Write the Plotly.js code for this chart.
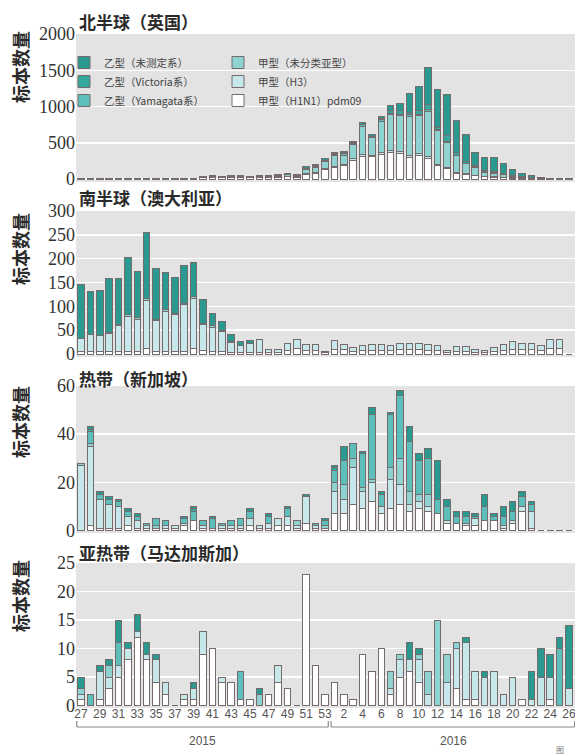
<!DOCTYPE html>
<html>
<head>
<meta charset="utf-8">
<script src="https://cdn.plot.ly/plotly-3.0.1.min.js"></script>
<style>html,body{margin:0;padding:0;background:#fff;}#chart{width:575px;height:756px;}</style>
</head>
<body>
<div id="chart"></div>
<script>
// Categories: ISO weeks 2015-27 .. 2016-26
const weeks = ['27','28','29','30','31','32','33','34','35','36','37','38','39','40','41','42','43','44','45','46','47','48','49','50','51','52','53',
  '1','2','3','4','5','6','7','8','9','10','11','12','13','14','15','16','17','18','19','20','21','22','23','24','25','26'];
const tickWeeks = ['27','29','31','33','35','37','39','41','43','45','47','49','51','53','2','4','6','8','10','12','14','16','18','20','22','24','26'];

const seriesNames = ['甲型（H1N1）pdm09','甲型（H3）','甲型（未分类亚型）','乙型（Yamagata系）','乙型（Victoria系）','乙型（未测定系）'];
const seriesColors = ['#ffffff','#c6e8eb','#8fd2d2','#5cbfbb','#34a89e','#2a9a90'];

const panelTitles = ['北半球（英国）','南半球（澳大利亚）','热带（新加坡）','亚热带（马达加斯加）'];
const yLabel = '标本数量';
const yearLabels = ['2015','2016'];

// Panel 1: Northern hemisphere (UK)
const ukH1N1 = [3,2,3,3,2,3,4,3,3,4,5,5,6, 16,18,16,18,18,16,20,18,24,28,26, 65,80,125,160,185,262,317,308,340,368,350,300,331,285,184,147,78,64,46,30,25,20,12,8,6,3,2,2,2];
const ukH3 = [1,1,1,1,1,1,1,1,1,1,1,1,1, 4,5,4,5,5,4,5,5,6,7,7, 10,10,15,15,15,20,25,20,25,25,25,25,25,25,20,15,10,10,5,5,5,5,3,2,2,1,1,1,1];
const ukAunsub = [2,2,2,2,2,2,2,2,2,2,2,2,2, 12,13,12,13,13,12,15,13,18,21,19, 55,70,100,155,130,196,389,242,435,490,498,540,520,620,460,340,235,140,110,60,50,40,25,15,10,3,2,2,2];
const ukYam = [1,1,1,1,1,1,1,1,1,1,1,1,1, 3,3,3,3,3,3,4,3,4,5,5, 10,10,10,12,15,15,15,10,15,20,20,18,16,22,12,13,8,2,6,4,5,4,3,2,2,1,1,1,1];
const ukVic = [1,1,1,1,1,1,1,1,1,1,1,1,1, 2,3,2,3,3,2,3,3,4,4,4, 10,10,10,10,16,11,11,11,24,47,56,40,50,80,40,80,40,30,20,15,15,12,10,6,5,2,1,1,1];
const ukBund = [1,1,1,1,1,1,1,1,1,1,1,1,1, 3,3,3,3,3,3,3,3,4,5,4, 20,20,20,20,25,20,20,20,30,70,90,259,332,508,521,564,434,361,185,180,190,130,80,45,30,5,3,3,1];

// Panel 2: Southern hemisphere (Australia)
const auH1N1 = [6,6,5,6,6,6,6,12,6,6,6,6,12,8,6,5,4,3,4,4, 4,4,8,12,8,8,3, 10,9,6,7,8,8,7,9,9,9,8,8,4,6,6,4,4,6,8,10,9,9,7,12,12,0];
const auH3 = [27,35,34,37,53,72,67,101,64,84,76,97,105,54,50,43,20,14,17,27, 6,6,14,18,12,12,2, 18,11,8,11,12,12,10,13,13,13,12,10,4,9,9,6,4,8,12,16,13,13,10,18,18,0];
const auAunsub = [0,0,0,3,2,5,4,4,3,3,4,4,4,3,3,2,2,1,0,0, 0,0,0,0,0,0,0, 0,0,0,0,0,0,0,0,0,0,0,0,0,0,0,0,0,0,0,0,0,0,0,0,0,0];
const auYam = [0,0,0,0,0,0,0,0,0,0,0,0,0,0,0,0,0,0,0,0, 0,0,0,0,0,0,0, 0,0,0,0,0,0,0,0,0,0,0,0,0,0,0,0,0,0,0,0,0,0,0,0,0,0];
const auVic = [0,0,0,0,0,0,0,0,0,0,0,0,0,0,0,0,0,0,0,0, 0,0,0,0,0,0,0, 0,0,0,0,0,0,0,0,0,0,0,0,0,0,0,0,0,0,0,0,0,0,0,0,0,0];
const auBund = [113,90,94,113,97,119,96,138,106,77,74,78,70,49,26,18,15,9,8,0, 0,0,0,0,0,0,0, 0,0,0,0,0,0,0,0,0,0,0,0,0,0,0,0,0,0,0,0,0,0,0,0,0,0];

// Panel 3: Tropics (Singapore)
const sgH1N1 = [0,2,1,1,1,2,1,1,1,1,1,2,4,1,1,1,1,1,2,1,1,2,2,1,3,1,1, 7,7,11,9,12,7,9,11,8,9,8,7,3,3,2,2,4,4,1,3,8,1,0,0,0,0];
const sgH3 = [27,33,12,10,9,4,3,1,0,1,1,1,0,1,0,1,1,1,3,1,2,3,4,1,11,1,0, 9,6,15,7,8,3,12,8,3,3,2,0,1,0,1,3,0,0,1,1,2,7,0,0,0,0];
const sgAunsub = [1,1,0,0,0,0,0,0,1,0,0,0,0,0,0,0,0,0,0,0,0,0,0,2,0,0,1, 4,6,4,2,1,0,5,11,5,3,5,0,0,0,0,0,0,0,0,0,0,0,0,0,0,0];
const sgYam = [0,5,2,2,2,2,2,1,3,2,0,2,4,2,4,1,2,3,3,0,3,0,3,0,0,1,2, 5,10,6,14,27,5,22,26,21,14,15,6,6,3,3,1,6,2,4,4,4,3,0,0,0,0];
const sgVic = [0,1,0,0,0,0,0,0,0,0,0,0,1,0,0,0,0,0,0,0,0,0,0,0,0,0,0, 1,0,0,0,0,0,0,0,0,0,0,0,0,0,0,0,0,0,0,0,0,0,0,0,0,0];
const sgBund = [0,1,1,1,1,1,1,0,0,0,0,1,1,0,1,0,0,0,1,0,1,0,1,0,1,0,1, 1,6,0,1,3,1,1,2,6,3,4,16,3,2,2,1,5,1,4,4,2,1,0,0,0,0];

// Panel 4: Subtropics (Madagascar)
const mgH1N1 = [1,0,1,3,5,8,12,8,4,2,0,1,1,9,10,4,4,1,1,0,2,4,3,0,23,7,2, 4,2,1,9,6,10,2,5,6,4,0,0,0,3,1,1,0,0,0,0,1,0,0,1,0,0];
const mgH3 = [1,0,5,2,2,2,1,1,4,2,0,1,2,4,0,1,0,0,0,0,0,3,0,0,0,0,0, 0,0,0,0,0,0,1,3,2,4,2,0,4,7,10,5,5,6,2,5,0,1,5,4,0,3];
const mgAunsub = [1,0,0,2,0,0,0,0,0,0,0,0,0,0,0,0,0,0,0,2,0,0,0,0,0,0,0, 0,0,0,0,0,0,3,1,0,1,4,15,5,1,0,0,0,0,0,0,0,0,0,0,0,0];
const mgYam = [0,2,0,0,4,0,0,0,0,0,0,0,0,0,0,0,0,5,0,0,0,0,0,0,0,0,0, 0,0,0,0,0,0,0,0,0,0,0,0,0,0,0,0,0,0,0,0,0,0,0,0,10,0];
const mgVic = [0,0,0,0,0,0,0,0,0,0,0,0,0,0,0,0,0,0,0,0,0,0,0,0,0,0,0, 0,0,0,0,0,0,0,0,0,0,0,0,0,0,0,0,0,0,0,0,0,0,0,0,0,0];
const mgBund = [2,0,1,1,4,1,3,2,1,0,0,0,1,0,0,0,0,0,0,1,0,0,0,0,0,0,0, 0,0,0,0,0,0,0,0,3,1,0,0,0,0,1,0,1,0,0,0,0,5,5,4,2,11];

const panels = [
  [ukH1N1, ukH3, ukAunsub, ukYam, ukVic, ukBund],
  [auH1N1, auH3, auAunsub, auYam, auVic, auBund],
  [sgH1N1, sgH3, sgAunsub, sgYam, sgVic, sgBund],
  [mgH1N1, mgH3, mgAunsub, mgYam, mgVic, mgBund]
];
const yMax = [2000, 300, 60, 25];
const yDtick = [500, 50, 20, 5];

const W = 575, H = 756, L = 76;
const px2x = p => (p - L) / (W - L);
const py2y = p => (H - p) / H;
// pixel extents of each panel's plotting area [top, bottom]
const panelPx = [[34,182],[211,357],[386,533],[563,708]];
const zeroPx = [179, 354, 530.5, 705.5];
const titlePy = [22, 197, 378, 552];
const ylabPy = [67, 249, 422, 596];

const traces = [];
panels.forEach((series, p) => {
  series.forEach((vals, s) => {
    traces.push({
      type: 'bar',
      x: weeks,
      y: vals,
      name: seriesNames[s],
      xaxis: 'x',
      yaxis: p === 0 ? 'y' : 'y' + (p + 1),
      marker: {color: seriesColors[s], line: {color: '#766b6c', width: 1}},
      showlegend: p === 0,
      legend: s >= 3 ? 'legend' : 'legend2',
      hovertemplate: seriesNames[s] + ' 第%{x}周: %{y}<extra></extra>'
    });
  });
});

const layout = {
  width: W, height: H,
  margin: {l: L, r: 0, t: 0, b: 0},
  paper_bgcolor: '#ffffff',
  plot_bgcolor: '#e3e3e3',
  barmode: 'stack',
  bargap: 0.3,
  showlegend: true,
  font: {family: 'Noto Sans CJK SC, sans-serif', color: '#333'},
  xaxis: {
    type: 'category', anchor: 'y4', range: [-0.53, 52.64],
    tickmode: 'array', tickvals: tickWeeks, ticktext: tickWeeks,
    showgrid: false, showline: false, zeroline: false, ticks: '',
    ticklabelstandoff: -3,
    tickfont: {family: 'Liberation Sans, sans-serif', size: 12, color: '#555'},
    automargin: false, fixedrange: true
  },
  legend: {
    x: px2x(64), y: py2y(48), xanchor: 'left', yanchor: 'top',
    bgcolor: 'rgba(0,0,0,0)', traceorder: 'reversed', tracegroupgap: 0,
    font: {family: 'Noto Sans CJK SC, sans-serif', size: 10.5, color: '#444'},
    itemclick: false, itemdoubleclick: false
  },
  legend2: {
    x: px2x(218), y: py2y(48), xanchor: 'left', yanchor: 'top',
    bgcolor: 'rgba(0,0,0,0)', traceorder: 'reversed', tracegroupgap: 0,
    font: {family: 'Noto Sans CJK SC, sans-serif', size: 10.5, color: '#444'},
    itemclick: false, itemdoubleclick: false
  },
  annotations: [],
  shapes: []
};

for (let p = 0; p < 4; p++) {
  const key = p === 0 ? 'yaxis' : 'yaxis' + (p + 1);
  const [t, b] = panelPx[p];
  // small negative lower bound so the zero line sits at zeroPx
  const span = yMax[p] * (b - t) / (zeroPx[p] - t);
  layout[key] = {
    domain: [py2y(b), py2y(t)],
    range: [yMax[p] - span, yMax[p]],
    anchor: 'x',
    dtick: yDtick[p], tick0: 0,
    showgrid: true, gridcolor: '#ffffff', gridwidth: 1.5,
    zeroline: false, showline: false, ticks: '',
    tickfont: {family: 'Liberation Serif, serif', size: 18, color: '#333'},
    automargin: false, fixedrange: true
  };
  layout.annotations.push({
    xref: 'paper', yref: 'paper', x: px2x(77), y: py2y(titlePy[p]),
    xanchor: 'left', yanchor: 'middle', showarrow: false,
    text: '<b>' + panelTitles[p] + '</b>',
    font: {family: 'Noto Sans CJK SC, sans-serif', size: 17, color: '#2a2a2a'}
  });
  layout.annotations.push({
    xref: 'paper', yref: 'paper', x: px2x(20), y: py2y(ylabPy[p]),
    xanchor: 'center', yanchor: 'middle', showarrow: false, textangle: -90,
    text: '<b>' + yLabel + '</b>',
    font: {family: 'Noto Sans CJK SC, sans-serif', size: 18, color: '#2a2a2a'}
  });
}

// year brackets below the week axis
const brY = py2y(727), brTop = py2y(721);
const firstIdx = 0, lastIdx2015 = weeks.indexOf('53'), firstIdx2016 = weeks.indexOf('1'), lastIdx = weeks.length - 1;
const brackets = [[firstIdx - 0.45, lastIdx2015 + 0.35], [firstIdx2016 - 0.35, lastIdx + 0.6]];
brackets.forEach(([a, b2]) => {
  const ln = {color: '#8a8a8a', width: 1.2};
  layout.shapes.push({type: 'line', xref: 'x', yref: 'paper', x0: a, x1: b2, y0: brY, y1: brY, line: ln});
  layout.shapes.push({type: 'line', xref: 'x', yref: 'paper', x0: a, x1: a, y0: brY, y1: brTop, line: ln});
  layout.shapes.push({type: 'line', xref: 'x', yref: 'paper', x0: b2, x1: b2, y0: brY, y1: brTop, line: ln});
});
layout.annotations.push({
  xref: 'x', yref: 'paper', x: (brackets[0][0] + brackets[0][1]) / 2, y: py2y(741),
  xanchor: 'center', yanchor: 'middle', showarrow: false, text: yearLabels[0],
  font: {family: 'Liberation Sans, sans-serif', size: 12, color: '#555'}
});
layout.annotations.push({
  xref: 'x', yref: 'paper', x: 39.7, y: py2y(741),
  xanchor: 'center', yanchor: 'middle', showarrow: false, text: yearLabels[1],
  font: {family: 'Liberation Sans, sans-serif', size: 12, color: '#555'}
});
layout.annotations.push({
  xref: 'paper', yref: 'paper', x: px2x(560), y: py2y(749),
  xanchor: 'center', yanchor: 'middle', showarrow: false, text: '图',
  font: {family: 'Noto Sans CJK SC, sans-serif', size: 8, color: '#777'}
});

Plotly.newPlot('chart', traces, layout, {displayModeBar: false, staticPlot: true});
</script>
</body>
</html>
